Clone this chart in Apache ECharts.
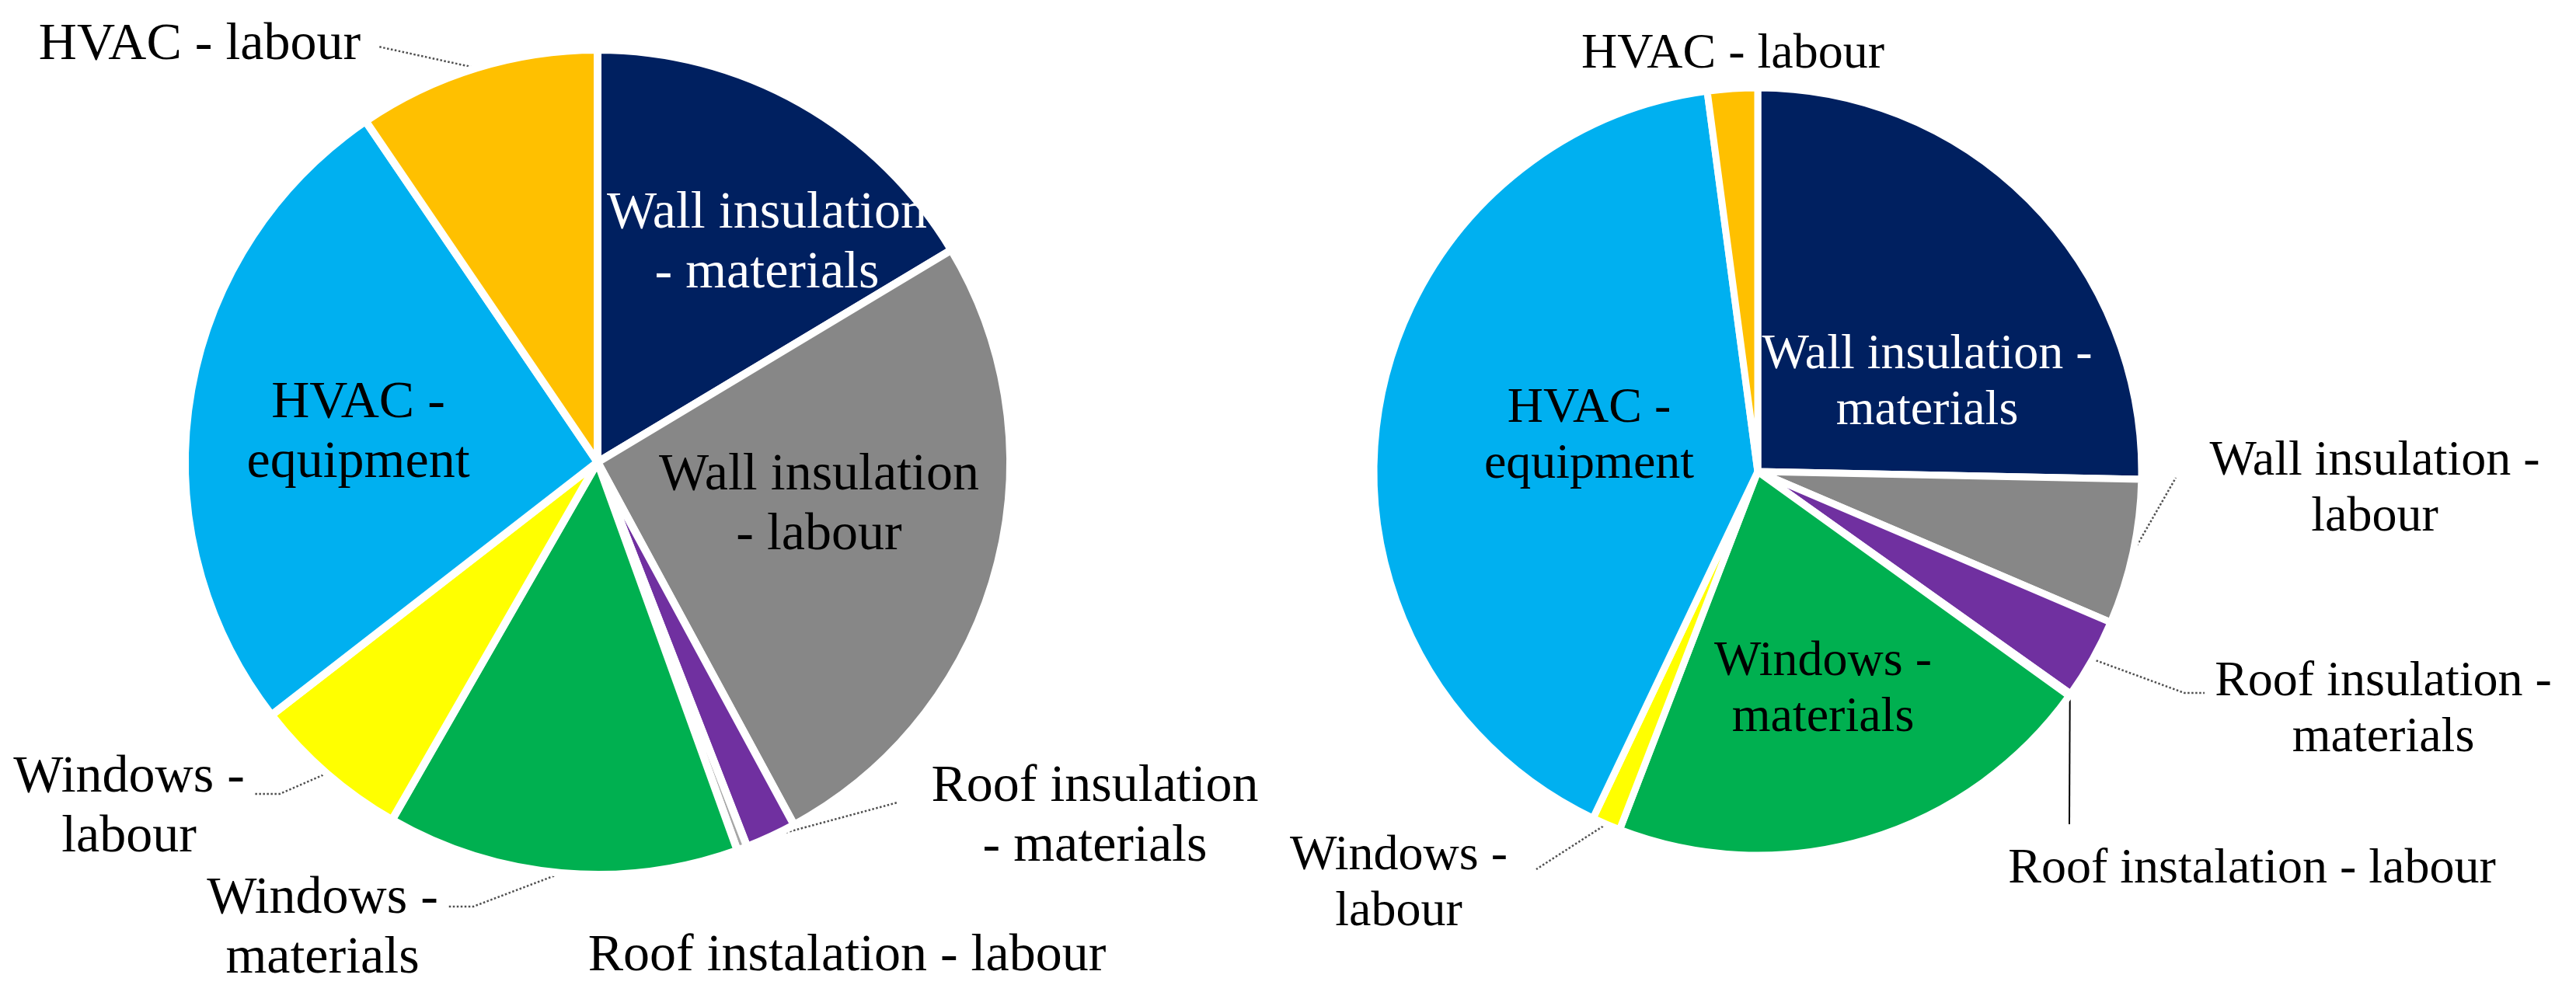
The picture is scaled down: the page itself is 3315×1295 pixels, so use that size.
<!DOCTYPE html>
<html>
<head>
<meta charset="utf-8">
<script src="https://cdn.jsdelivr.net/npm/echarts@6/dist/echarts.min.js"></script>
<style>
  html, body { margin: 0; padding: 0; background: #fff; }
  #chart { width: 3315px; height: 1295px; }
</style>
</head>
<body>
<div id="chart"></div>
<script>
// categories, clockwise from 12 o'clock
const categories = [
  'Wall insulation - materials',
  'Wall insulation - labour',
  'Roof insulation - materials',
  'Roof instalation - labour',
  'Windows - materials',
  'Windows - labour',
  'HVAC - equipment',
  'HVAC - labour'
]
const colors = ['#002060', '#878787', '#7030A0', '#A6A6A6', '#00B050', '#FFFF00', '#00B0F0', '#FFC000']

// shares (%)
const leftValues = [16.4, 25.7, 2.0, 0.4, 13.8, 6.2, 26.0, 9.5]
const rightValues = [25.3, 6.1, 3.4, 0.1, 20.9, 1.2, 40.8, 2.1]

// label texts (line breaks as in the picture)
const leftLabels = [
  'Wall insulation\n- materials', 'Wall insulation\n- labour', 'Roof insulation\n- materials',
  'Roof instalation - labour', 'Windows -\nmaterials', 'Windows -\nlabour', 'HVAC -\nequipment', 'HVAC - labour'
]
const rightLabels = [
  'Wall insulation -\nmaterials', 'Wall insulation -\nlabour', 'Roof insulation -\nmaterials',
  'Roof instalation - labour', 'Windows -\nmaterials', 'Windows -\nlabour', 'HVAC -\nequipment', 'HVAC - labour'
]

// label placement relative to the pie centre, plus leader line points
const leftPlace = [
  { dx: 218, dy: -281, inside: true, white: true },
  { dx: 285, dy: 56, inside: true },
  { dx: 640, dy: 457, line: [[386, 438], [386, 438]] },
  { dx: 321, dy: 636, inside: true },
  { dx: -354, dy: 601, line: [[-160, 572], [-192, 572]] },
  { dx: -603, dy: 445, line: [[-409, 427], [-441, 427]] },
  { dx: -308, dy: -37, inside: true },
  { dx: -512, dy: -537, line: [[-282, -535], [-282, -535]] }
]
const rightPlace = [
  { dx: 218, dy: -114, inside: true, white: true },
  { dx: 794, dy: 23, line: [[538, 8], [538, 8]] },
  { dx: 805, dy: 307, line: [[549, 285], [575, 285]] },
  { dx: 636, dy: 512, line: [[401, 454], [401, 454]], solid: true },
  { dx: 84, dy: 281, inside: true },
  { dx: -462, dy: 531, line: [[-285, 512], [-285, 512]] },
  { dx: -217, dy: -45, inside: true },
  { dx: -32, dy: -537, inside: true }
]

const leftCenter = [769, 595]
const rightCenter = [2262, 607]

function buildData(values, labels, place) {
  return values.map(function (v, i) {
    const p = place[i]
    return {
      name: categories[i],
      value: v,
      itemStyle: { color: colors[i] },
      label: { formatter: labels[i], color: p.white ? '#fff' : '#000' },
      labelLine: {
        show: !!p.line,
        lineStyle: p.solid
          ? { type: 'solid', color: '#000', width: 2 }
          : { type: 'dotted', color: '#505050', width: 2.5 }
      }
    }
  })
}

function makeLayout(center, place) {
  return function (params) {
    const p = place[params.dataIndex]
    const out = {
      x: center[0] + p.dx,
      y: center[1] + p.dy,
      align: 'center',
      verticalAlign: 'middle'
    }
    if (p.line && params.labelLinePoints) {
      const pts = [params.labelLinePoints[0]]
      p.line.forEach(function (q) { pts.push([center[0] + q[0], center[1] + q[1]]) })
      out.labelLinePoints = pts
    }
    return out
  }
}

function pieSeries(name, center, radius, border, values, labels, place, fontSize, lineHeight) {
  return {
    name: name,
    type: 'pie',
    center: center,
    radius: radius,
    startAngle: 90,
    clockwise: true,
    avoidLabelOverlap: false,
    animation: false,
    itemStyle: { borderColor: '#fff', borderWidth: border },
    label: {
      show: true,
      position: 'outside',
      fontFamily: 'Liberation Serif',
      fontSize: fontSize,
      lineHeight: lineHeight,
      align: 'center'
    },
    labelLine: { show: true, length: 20, length2: 20 },
    emphasis: { disabled: true },
    labelLayout: makeLayout(center, place),
    data: buildData(values, labels, place)
  }
}

var myChart = echarts.init(document.getElementById('chart'))
var option = {
  backgroundColor: '#fff',
  tooltip: { show: false },
  series: [
    pieSeries('left', leftCenter, 531, 10, leftValues, leftLabels, leftPlace, 68, 77),
    pieSeries('right', rightCenter, 494, 9, rightValues, rightLabels, rightPlace, 64, 72)
  ]
}
myChart.setOption(option, true)
window.onresize = () => {
  myChart.resize()
}
</script>
</body>
</html>
